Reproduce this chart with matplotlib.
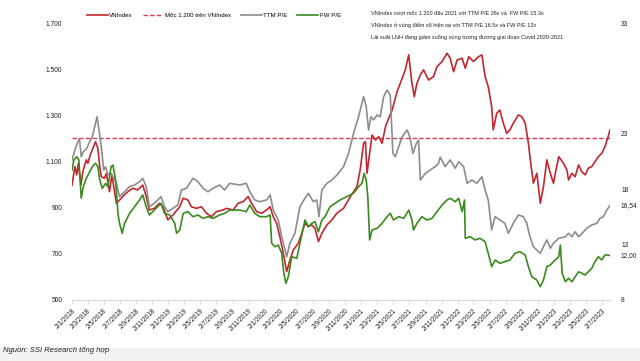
import matplotlib
matplotlib.use('Agg')
import matplotlib.pyplot as plt
import matplotlib.ticker as mticker
from matplotlib.lines import Line2D
from matplotlib.patches import Rectangle
from matplotlib import font_manager
import pandas as pd

_names = {f.name for f in font_manager.fontManager.ttflist}
NARROW = 'Liberation Sans Narrow' if 'Liberation Sans Narrow' in _names else 'Liberation Sans'
plt.rcParams['font.family'] = [NARROW, 'Liberation Sans', 'DejaVu Sans']

# ---------------- data ----------------
vn_dates = ["2018-01-02","2018-01-13","2018-01-20","2018-01-26","2018-02-05","2018-02-12","2018-02-25","2018-03-03",
            "2018-03-12","2018-03-22","2018-04-01","2018-04-10","2018-04-17","2018-04-23","2018-05-05","2018-05-12",
            "2018-05-24","2018-06-02","2018-06-19","2018-07-01","2018-07-13","2018-08-01","2018-08-20","2018-09-08",
            "2018-09-27","2018-10-10","2018-10-22","2018-11-10","2018-11-29","2018-12-12","2018-12-31","2019-01-19",
            "2019-02-14","2019-02-27","2019-03-17","2019-03-30","2019-04-18","2019-05-07","2019-05-26","2019-06-14",
            "2019-07-03","2019-07-28","2019-08-10","2019-09-04","2019-09-23","2019-10-12","2019-10-31","2019-11-13",
            "2019-12-02","2019-12-21","2020-01-09","2020-01-22","2020-02-03","2020-02-16","2020-02-28","2020-03-12",
            "2020-03-25","2020-04-06","2020-04-19","2020-05-08","2020-05-21","2020-06-02","2020-06-15","2020-06-28",
            "2020-07-10","2020-07-23","2020-08-05","2020-08-24","2020-09-12","2020-10-01","2020-10-26","2020-11-21",
            "2020-12-16","2020-12-29","2021-01-10","2021-01-17","2021-01-23","2021-02-02","2021-02-11","2021-02-24",
            "2021-03-08","2021-03-21","2021-04-03","2021-04-15","2021-04-28","2021-05-17","2021-06-05","2021-06-17",
            "2021-06-30","2021-07-12","2021-07-21","2021-07-31","2021-08-13","2021-08-25","2021-09-13","2021-10-02",
            "2021-10-15","2021-11-03","2021-11-22","2021-12-04","2021-12-17","2021-12-30","2022-01-18","2022-01-30",
            "2022-02-12","2022-03-02","2022-03-21","2022-04-03","2022-04-15","2022-04-27","2022-05-10","2022-05-16",
            "2022-05-29","2022-06-10","2022-06-23","2022-07-06","2022-07-18","2022-07-31","2022-08-19","2022-09-01",
            "2022-09-14","2022-09-26","2022-10-05","2022-10-15","2022-10-28","2022-11-10","2022-11-22","2022-12-05",
            "2022-12-18","2022-12-30","2023-01-06","2023-01-19","2023-02-06","2023-02-19","2023-02-25","2023-03-10",
            "2023-03-22","2023-04-04","2023-04-16","2023-04-29","2023-05-11","2023-05-24","2023-06-05","2023-06-18",
            "2023-07-01","2023-07-13","2023-07-25","2023-08-01"]
vn_values = [998,1078,1042,1092,998,1056,1107,1092,
             1128,1157,1186,1157,1078,1034,1027,1049,
             969,1042,919,933,948,969,984,977,
             998,948,890,897,919,904,847,868,
             904,941,933,904,897,904,876,861,
             883,890,897,890,919,926,948,919,
             883,876,890,904,861,832,774,702,
             623,673,717,746,789,832,818,825,
             811,753,789,825,847,876,897,948,
             991,1071,1179,1186,1049,1136,1215,1193,
             1208,1179,1251,1287,1323,1403,1461,1497,
             1562,1439,1381,1439,1475,1497,1453,1468,
             1511,1533,1569,1547,1489,1540,1547,1504,
             1554,1533,1554,1562,1468,1424,1338,1237,
             1309,1323,1266,1222,1237,1266,1302,1294,
             1266,1179,1092,1006,1049,919,991,1107,
             1049,1006,1049,1121,1092,1063,1020,1049,
             1034,1085,1056,1042,1071,1078,1099,1121,
             1136,1164,1208,1237]

ttm_dates = ["2018-01-02","2018-01-13","2018-01-22","2018-01-30","2018-02-06","2018-02-14","2018-02-27","2018-03-10",
             "2018-03-20","2018-03-29","2018-04-07","2018-04-14","2018-04-23","2018-05-02","2018-05-09","2018-05-18",
             "2018-05-30","2018-06-19","2018-07-01","2018-07-20","2018-08-08","2018-08-27","2018-09-15","2018-09-27",
             "2018-10-10","2018-10-22","2018-11-10","2018-12-05","2018-12-18","2018-12-31","2019-01-19","2019-02-07",
             "2019-02-20","2019-03-11","2019-04-05","2019-04-24","2019-05-13","2019-06-01","2019-06-20","2019-07-15",
             "2019-08-03","2019-08-22","2019-09-29","2019-10-24","2019-11-06","2019-11-25","2019-12-14","2020-01-09",
             "2020-01-22","2020-02-03","2020-02-22","2020-03-06","2020-03-25","2020-04-06","2020-04-25","2020-05-14",
             "2020-06-02","2020-06-15","2020-07-04","2020-07-17","2020-07-25","2020-08-05","2020-08-24","2020-09-12",
             "2020-10-01","2020-10-26","2020-11-14","2020-12-03","2020-12-22","2021-01-10","2021-01-20","2021-01-29",
             "2021-02-07","2021-02-17","2021-03-02","2021-03-14","2021-03-27","2021-04-09","2021-04-21","2021-05-01",
             "2021-05-10","2021-05-23","2021-06-05","2021-06-24","2021-07-04","2021-07-16","2021-07-29","2021-08-06",
             "2021-08-13","2021-09-01","2021-09-19","2021-10-08","2021-10-21","2021-10-27","2021-11-15","2021-12-04",
             "2021-12-23","2022-01-05","2022-01-24","2022-02-06","2022-02-24","2022-03-15","2022-04-03","2022-04-15",
             "2022-04-27","2022-05-10","2022-05-23","2022-06-10","2022-06-29","2022-07-12","2022-07-31","2022-08-19",
             "2022-09-07","2022-09-20","2022-10-02","2022-10-15","2022-10-28","2022-11-10","2022-11-22","2022-12-05",
             "2022-12-18","2022-12-30","2023-01-19","2023-02-13","2023-02-25","2023-03-10","2023-03-22","2023-04-04",
             "2023-04-23","2023-05-05","2023-05-24","2023-06-12","2023-06-24","2023-07-07","2023-07-20","2023-08-01"]
ttm_values = [20.64,21.54,22.14,22.59,20.93,21.38,21.69,22.29,
              22.74,23.64,24.54,23.34,21.84,19.73,20.03,19.28,
              19.43,18.53,17.32,17.77,18.23,18.38,18.68,18.98,
              18.23,16.42,16.73,17.32,16.42,15.97,16.28,16.57,
              17.93,18.08,18.98,18.68,18.08,17.77,18.08,18.38,
              17.93,18.53,18.38,18.53,17.77,17.03,16.87,17.03,
              17.48,16.12,15.22,13.71,11.91,13.12,14.02,16.42,
              17.18,17.63,16.87,17.03,15.52,17.93,18.53,18.83,
              19.28,20.03,21.24,23.04,24.54,26.35,25.45,23.34,
              24.54,24.25,24.70,24.54,26.35,26.95,26.50,21.24,
              20.93,21.84,22.74,23.34,22.74,21.24,22.14,22.44,
              18.83,19.43,19.73,20.03,20.34,20.90,20.03,20.64,
              19.89,20.48,20.03,18.53,18.83,18.53,19.13,17.93,
              17.03,14.32,15.52,15.22,14.92,14.02,14.92,15.67,
              15.52,14.92,13.71,12.81,12.51,12.21,12.81,13.42,
              12.67,13.12,13.57,13.71,14.02,13.71,14.16,13.71,
              14.16,14.47,14.77,14.92,15.37,15.52,16.12,16.54]

fw_dates = ["2018-01-02","2018-01-09","2018-01-20","2018-01-28","2018-02-06","2018-02-14","2018-02-25","2018-03-07",
            "2018-03-20","2018-04-01","2018-04-10","2018-04-17","2018-04-27","2018-05-09","2018-05-18","2018-05-30",
            "2018-06-06","2018-06-16","2018-06-25","2018-07-01","2018-07-11","2018-07-20","2018-08-08","2018-08-27",
            "2018-09-15","2018-09-27","2018-10-10","2018-10-22","2018-11-10","2018-12-05","2018-12-18","2019-01-07",
            "2019-01-26","2019-02-02","2019-02-14","2019-02-27","2019-03-17","2019-04-05","2019-04-24","2019-05-13",
            "2019-06-01","2019-06-20","2019-07-15","2019-08-03","2019-08-22","2019-09-29","2019-10-24","2019-11-06",
            "2019-11-25","2019-12-14","2020-01-09","2020-01-22","2020-01-28","2020-02-09","2020-02-22","2020-03-06",
            "2020-03-14","2020-03-22","2020-03-31","2020-04-13","2020-05-02","2020-05-14","2020-06-02","2020-06-15",
            "2020-06-28","2020-07-10","2020-07-23","2020-08-05","2020-08-17","2020-09-05","2020-09-24","2020-10-13",
            "2020-11-07","2020-12-03","2020-12-22","2021-01-04","2021-01-12","2021-01-20","2021-01-26","2021-02-02",
            "2021-02-11","2021-03-02","2021-03-21","2021-04-09","2021-04-21","2021-05-03","2021-05-23","2021-06-11",
            "2021-06-30","2021-07-12","2021-07-18","2021-07-31","2021-08-19","2021-09-07","2021-09-26","2021-10-15",
            "2021-11-03","2021-11-22","2021-12-04","2021-12-23","2022-01-05","2022-01-18","2022-01-27","2022-01-30",
            "2022-02-18","2022-03-08","2022-03-27","2022-04-15","2022-04-27","2022-05-10","2022-05-23","2022-06-10",
            "2022-06-29","2022-07-18","2022-08-06","2022-08-25","2022-09-14","2022-09-26","2022-10-09","2022-10-28",
            "2022-11-10","2022-11-22","2022-12-05","2022-12-18","2022-12-30","2023-01-19","2023-01-25","2023-02-01",
            "2023-02-13","2023-02-25","2023-03-10","2023-03-22","2023-04-04","2023-04-16","2023-04-29","2023-05-11",
            "2023-05-24","2023-06-05","2023-06-18","2023-07-01","2023-07-13","2023-07-25","2023-08-01"]
fw_values = [19.73,20.64,20.93,20.64,17.18,18.23,18.98,19.43,
             20.03,20.34,20.03,18.83,18.08,18.53,18.23,20.03,
             20.18,18.83,15.82,14.92,14.02,14.92,15.82,16.42,
             17.03,17.48,16.42,15.67,16.12,16.73,15.82,15.67,
             14.92,14.02,14.32,15.82,15.97,15.52,15.67,15.37,
             15.52,15.37,15.67,15.82,16.12,16.12,15.97,16.57,
             15.82,15.52,15.52,15.67,13.12,12.81,12.96,12.21,
             10.41,9.51,10.10,11.91,11.76,13.12,15.22,14.62,
             14.92,15.07,14.16,15.22,15.52,16.42,16.73,17.03,
             17.32,17.63,18.23,18.53,19.43,18.83,17.32,13.42,
             14.32,14.47,14.92,15.52,15.82,15.22,15.52,15.37,
             16.12,15.22,14.32,14.92,15.52,15.22,15.37,15.97,
             16.57,17.03,17.18,16.87,17.18,15.97,17.03,13.57,
             13.71,13.42,13.57,13.26,12.21,11.01,11.61,11.31,
             11.46,11.61,12.21,12.36,12.06,11.01,10.10,9.80,
             9.20,9.80,11.01,11.16,11.46,11.91,12.96,10.41,
             9.65,9.96,9.65,10.10,10.55,10.41,10.26,10.55,
             10.86,11.46,11.91,11.61,12.06,12.06,12.00]

threshold = 1200
xtick_dates = ["2018-01-02","2018-03-02","2018-05-02","2018-07-02","2018-09-02","2018-11-02",
               "2019-01-02","2019-03-02","2019-05-02","2019-07-02","2019-09-02","2019-11-02",
               "2020-01-02","2020-03-02","2020-05-02","2020-07-02","2020-09-02","2020-11-02",
               "2021-01-02","2021-03-02","2021-05-02","2021-07-02","2021-09-02","2021-11-02",
               "2022-01-02","2022-03-02","2022-05-02","2022-07-02","2022-09-02","2022-11-02",
               "2023-01-02","2023-03-02","2023-05-02","2023-07-02"]
xtick_labels = ["2/1/2018","2/3/2018","2/5/2018","2/7/2018","2/9/2018","2/11/2018",
                "2/1/2019","2/3/2019","2/5/2019","2/7/2019","2/9/2019","2/11/2019",
                "2/1/2020","2/3/2020","2/5/2020","2/7/2020","2/9/2020","2/11/2020",
                "2/1/2021","2/3/2021","2/5/2021","2/7/2021","2/9/2021","2/11/2021",
                "2/1/2022","2/3/2022","2/5/2022","2/7/2022","2/9/2022","2/11/2022",
                "2/1/2023","2/3/2023","2/5/2023","2/7/2023"]
left_ticks = [500, 700, 900, 1100, 1300, 1500, 1700]
right_ticks = [8, 13, 18, 23, 33]
end_label_texts = ["16,54", "12,00"]
end_label_values = [16.54, 12.00]
legend_labels = ["VNIndex", "Mốc 1.200 trên VNIndex", "TTM P/E", "FW P/E"]
notes = ["VNIndex vượt mốc 1.200 đầu 2021 với TTM P/E 26x và  FW P/E 15.3x",
         "VNIndex ở vùng điểm số hiện tại với TTM P/E 16.5x và FW P/E 12x",
         "Lãi suất LNH đang giảm xuống vùng tương đương giai đoạn Covid 2020-2021"]
source = "Nguồn: SSI Research tổng hợp"

# ---------------- style ----------------
C_VN = "#C3262E"
C_TH = "#E2364F"
C_TTM = "#8C8C8C"
C_FW = "#3A8A1E"
W, H = 640, 361
narrow = NARROW != 'Liberation Sans'
FS_TICK = 5.4 if narrow else 4.8
FS_LEG = 5.2 if narrow else 4.4
FS_NOTE = 4.9 if narrow else 4.0

fig = plt.figure(figsize=(6.4, 3.61), dpi=100)
fig.patches.append(Rectangle((0, 0), 1, 13 / H, transform=fig.transFigure,
                             facecolor="#f3f3f3", edgecolor="none", zorder=-5))
ax = fig.add_axes([72 / W, 61 / H, 538 / W, 277 / H])
ax2 = ax.twinx()

vd = pd.to_datetime(vn_dates)
td = pd.to_datetime(ttm_dates)
fd = pd.to_datetime(fw_dates)
x0, x1 = pd.Timestamp("2018-01-02"), pd.Timestamp("2023-08-01")

ax.plot(vd, vn_values, color=C_VN, lw=1.2, zorder=3)
ax.plot([x0, x1], [threshold, threshold], color=C_TH, lw=1.0, dashes=(3.2, 1.6), zorder=2)
ax2.plot(td, ttm_values, color=C_TTM, lw=1.2, zorder=3)
ax2.plot(fd, fw_values, color=C_FW, lw=1.2, zorder=3)

ax.set_xlim(x0, x1)
ax.set_ylim(500, 1700)
ax2.set_ylim(8, 33)
ax.set_yticks(left_ticks)
ax.yaxis.set_major_formatter(mticker.FuncFormatter(lambda v, p: f"{v:,.0f}".replace(",", ".")))
ax2.set_yticks(right_ticks)
ax.set_xticks(pd.to_datetime(xtick_dates))
ax.set_xticklabels(xtick_labels, rotation=45, ha="right", rotation_mode="anchor", fontsize=FS_TICK)

for a in (ax, ax2):
    for s in a.spines.values():
        s.set_visible(False)
ax.spines["bottom"].set_visible(True)
ax.spines["bottom"].set_color("#d9d9d9")
ax.spines["bottom"].set_linewidth(0.8)
ax.tick_params(axis="x", length=3, color="#d9d9d9", pad=2, labelcolor="#222222")
ax.tick_params(axis="y", length=0, pad=7, labelsize=FS_TICK, labelcolor="#222222")
ax2.tick_params(axis="y", length=0, pad=8, labelsize=FS_TICK, labelcolor="#222222")

for t, v in zip(end_label_texts, end_label_values):
    ax2.text(1.0204, v, t, transform=ax2.get_yaxis_transform(), fontsize=FS_TICK,
             ha="left", va="center", color="#222222")

handles = [Line2D([], [], color=C_VN, lw=1.2),
           Line2D([], [], color=C_TH, lw=1.0, dashes=(3.2, 1.6)),
           Line2D([], [], color=C_TTM, lw=1.2),
           Line2D([], [], color=C_FW, lw=1.2)]
fig.legend(handles, legend_labels, loc="center left", bbox_to_anchor=(87 / W, 1 - 15 / H),
           ncol=4, frameon=False, fontsize=FS_LEG, handlelength=3.4, handletextpad=0.25,
           columnspacing=1.6, borderaxespad=0, borderpad=0, prop={'size': FS_LEG})

for i, n in enumerate(notes):
    fig.text(371 / W, 1 - (13 + 12 * i) / H, n, fontsize=FS_NOTE, ha="left", va="center", color="#222222")

fig.text(3 / W, 1 - 350 / H, source, fontsize=5.5, style="italic", ha="left", va="center", color="#222222")

fig.savefig("out.png", dpi=100)
